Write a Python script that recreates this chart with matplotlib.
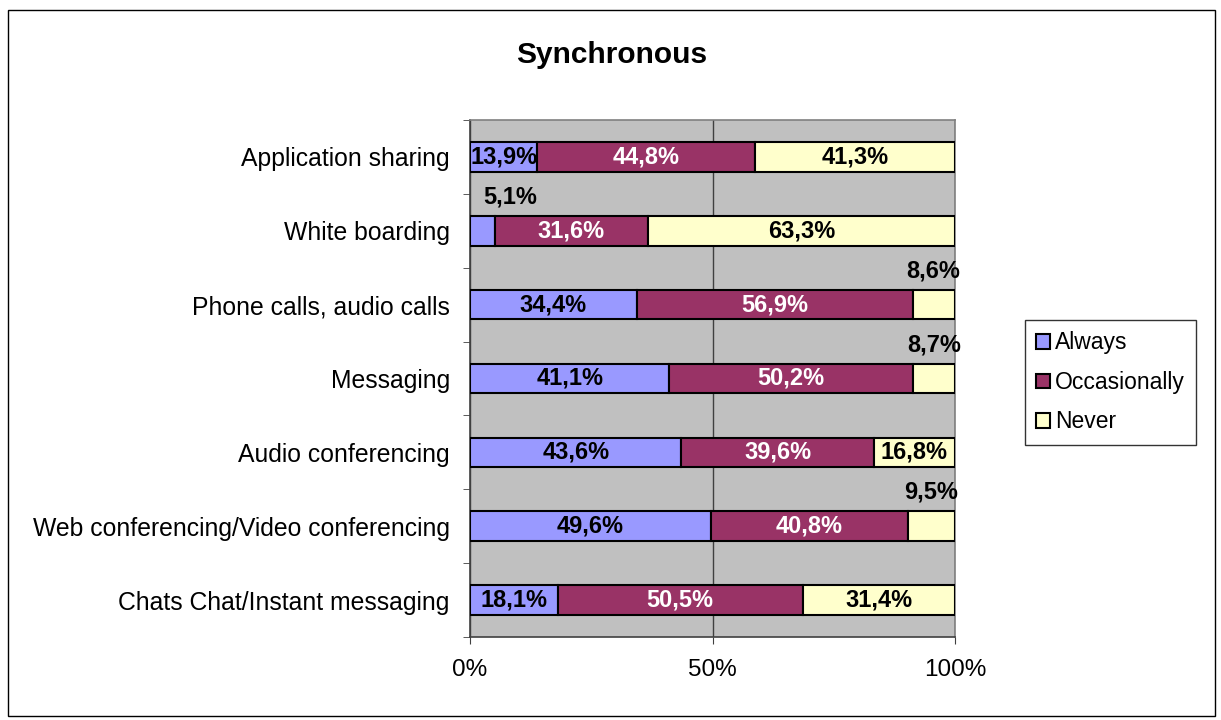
import matplotlib
matplotlib.use("Agg")
import matplotlib.pyplot as plt
from matplotlib.patches import Rectangle, Patch

plt.rcParams['font.family'] = ['Liberation Sans', 'DejaVu Sans']

categories = ["Application sharing", "White boarding", "Phone calls, audio calls",
              "Messaging", "Audio conferencing", "Web conferencing/Video conferencing",
              "Chats Chat/Instant messaging"]
always = [13.9, 5.1, 34.4, 41.1, 43.6, 49.6, 18.1]
occasionally = [44.8, 31.6, 56.9, 50.2, 39.6, 40.8, 50.5]
never = [41.3, 63.3, 8.6, 8.7, 16.8, 9.5, 31.4]

series = [("Always", always, "#9999FF", "black"),
          ("Occasionally", occasionally, "#993366", "white"),
          ("Never", never, "#FFFFCC", "black")]

fig = plt.figure(figsize=(12.21, 7.2), dpi=100)
ax = fig.add_axes([470 / 1221, 1 - 637 / 720, 485 / 1221, 517 / 720])
ax.set_facecolor("#C0C0C0")

def fmt(v):
    return f"{v:.1f}".replace(".", ",") + "%"

ypos = list(range(len(categories)))
left = [0.0] * len(categories)
for name, vals, color, tcolor in series:
    ax.barh(ypos, vals, left=left, height=0.4, color=color,
            edgecolor="black", linewidth=1.5, zorder=3)
    for i, v in enumerate(vals):
        cx = left[i] + v / 2
        if v < 10:
            # small segments get their label above the bar
            if name == "Always":
                ax.text(left[i] + 2.8, i - 0.46, fmt(v), ha="left", va="center",
                        fontsize=17, fontweight="bold", color="black", zorder=4)
            else:
                ax.text(cx, i - 0.46, fmt(v), ha="center", va="center",
                        fontsize=17, fontweight="bold", color="black", zorder=4)
        else:
            ax.text(cx, i, fmt(v), ha="center", va="center",
                    fontsize=17, fontweight="bold", color=tcolor, zorder=4)
    left = [l + v for l, v in zip(left, vals)]

ax.set_xlim(0, 100)
ax.set_ylim(len(categories) - 0.5, -0.5)
ax.set_xticks([0, 50, 100])
ax.set_xticklabels(["0%", "50%", "100%"], fontsize=17.5)
ax.set_yticks(ypos)
ax.set_yticklabels(categories, fontsize=17.8)
ax.tick_params(axis="y", length=0, pad=14.5)
ax.set_yticks([y + 0.5 for y in range(-1, len(categories))], minor=True)
ax.tick_params(axis="y", which="minor", length=5, direction="out", color="#404040")
ax.tick_params(axis="x", length=5, direction="out", color="#404040", pad=11)
ax.xaxis.grid(True, color="#404040", linewidth=1, zorder=1)
ax.set_axisbelow(True)
for s in ["left", "bottom"]:
    ax.spines[s].set_color("#404040")
    ax.spines[s].set_linewidth(1.2)
for s in ["top", "right"]:
    ax.spines[s].set_color("#808080")
    ax.spines[s].set_linewidth(1.2)

fig.text(612 / 1221, 1 - 55 / 720, "Synchronous", ha="center", va="center",
         fontsize=21.5, fontweight="bold")

handles = [Patch(facecolor=c, edgecolor="black", linewidth=1.5) for _, _, c, _ in series]
leg = fig.legend(handles, [n for n, _, _, _ in series], loc="upper left",
                 bbox_to_anchor=(1025 / 1221, 1 - 320 / 720), fontsize=16.5,
                 frameon=True, fancybox=False, handlelength=0.6, handleheight=0.6,
                 handletextpad=0.2, labelspacing=0.72, borderpad=0.5,
                 borderaxespad=0)
leg.get_frame().set_edgecolor("black")
leg.get_frame().set_linewidth(1)

fig.patches.append(Rectangle((8 / 1221, 4 / 720), 1207 / 1221, 706 / 720,
                             transform=fig.transFigure, fill=False,
                             edgecolor="black", linewidth=1))

fig.savefig("out.png", dpi=100, facecolor="white")
